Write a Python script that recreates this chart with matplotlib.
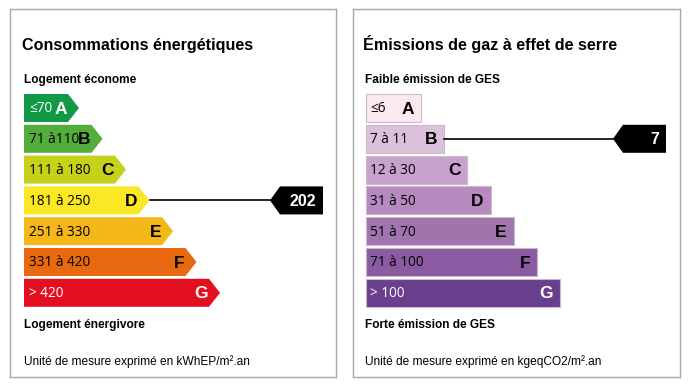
"""Energy performance diagnostic (DPE) labels: energy use and GHG emissions."""

import matplotlib.pyplot as plt
from matplotlib.patches import Polygon, Rectangle

# --- data -------------------------------------------------------------
classes = ["A", "B", "C", "D", "E", "F", "G"]

energy_ranges = ["≤70", "71 à110", "111 à 180", "181 à 250", "251 à 330", "331 à 420", "> 420"]
energy_colors = ["#109a48", "#52ad3a", "#c6d21a", "#fbe723", "#f4b719", "#e8690f", "#e30e1f"]
energy_text = ["white", "black", "black", "black", "black", "black", "white"]
energy_value = 202
energy_class = "D"

ges_ranges = ["≤6", "7 à 11", "12 à 30", "31 à 50", "51 à 70", "71 à 100", "> 100"]
ges_colors = ["#fbe9f2", "#dcc1dd", "#c7a2cc", "#b68abe", "#a174ae", "#8a5ba0", "#6a3f8e"]
ges_text = ["black", "black", "black", "black", "black", "black", "white"]
ges_value = 7
ges_class = "B"

# --- layout (pixels inside each panel) --------------------------------
BAR_TOP = 85.0
BAR_PITCH = 30.8
BAR_H = 28.0
BAR_X0 = 14.0
HEAD = 11.0

TITLE_FONT = ["Liberation Sans", "DejaVu Sans"]
RANGE_FONT = ["Open Sans", "DejaVu Sans"]


def make_panel(fig, left_px, width_px):
    ax = fig.add_axes([left_px / 689, 12 / 389, width_px / 689, 368 / 389])
    ax.set_xlim(0, width_px)
    ax.set_ylim(368, 0)
    ax.set_xticks([])
    ax.set_yticks([])
    for s in ax.spines.values():
        s.set_color("#a8a8a8")
        s.set_linewidth(1.0)
    return ax


def draw_pointer(ax, y_mid, line_x0, value):
    tip, box_l, box_r = 260, 270, 313
    top, bot = y_mid - BAR_H / 2, y_mid + BAR_H / 2
    ax.plot([line_x0, tip], [y_mid, y_mid], color="black", lw=1.2)
    ax.add_patch(Polygon([(tip, y_mid), (box_l, top), (box_r, top), (box_r, bot), (box_l, bot)],
                         closed=True, facecolor="black", edgecolor="none"))
    ax.text(box_r - 7, y_mid + 1, str(value), color="white", fontsize=11.5, fontweight="bold",
            family=TITLE_FONT, ha="right", va="center")


def header_footer(ax, x, title, top_label, bottom_label, unit):
    ax.text(x, 41, title, fontsize=11.6, fontweight="bold", family=TITLE_FONT, va="baseline")
    ax.text(x + 2, 74, top_label, fontsize=8.6, fontweight="bold", family=TITLE_FONT, va="baseline")
    ax.text(x + 2, 319, bottom_label, fontsize=8.6, fontweight="bold", family=TITLE_FONT, va="baseline")
    ax.text(x + 2, 356, unit, fontsize=8.6, family=TITLE_FONT, va="baseline")


fig = plt.figure(figsize=(6.89, 3.89), dpi=100)

# energy panel
ax1 = make_panel(fig, 10, 326)
header_footer(ax1, 12, "Consommations énergétiques", "Logement économe",
              "Logement énergivore", "Unité de mesure exprimé en kWhEP/m².an")
for i, (cls, rng, col, tc) in enumerate(zip(classes, energy_ranges, energy_colors, energy_text)):
    top = BAR_TOP + i * BAR_PITCH
    bot = top + BAR_H
    mid = top + BAR_H / 2
    tip = 69 + 23.5 * i
    ax1.add_patch(Polygon([(BAR_X0, top), (tip - HEAD, top), (tip, mid), (tip - HEAD, bot), (BAR_X0, bot)],
                          closed=True, facecolor=col, edgecolor="none"))
    ax1.text(BAR_X0 + 5, mid + 1, rng, color=tc, fontsize=9.8, family=RANGE_FONT, va="center")
    ax1.text(tip - 12, mid + 1, cls, color=tc, fontsize=12.5, fontweight="bold",
             family=TITLE_FONT, ha="right", va="center")
    if cls == energy_class:
        draw_pointer(ax1, mid, tip, energy_value)

# GHG panel
ax2 = make_panel(fig, 353, 327)
header_footer(ax2, 10, "Émissions de gaz à effet de serre", "Faible émission de GES",
              "Forte émission de GES", "Unité de mesure exprimé en kgeqCO2/m².an")
for i, (cls, rng, col, tc) in enumerate(zip(classes, ges_ranges, ges_colors, ges_text)):
    top = BAR_TOP + i * BAR_PITCH
    mid = top + BAR_H / 2
    end = 68 + 23.2 * i
    ax2.add_patch(Rectangle((13, top), end - 13, BAR_H, facecolor=col, edgecolor="#cbb9c9", lw=0.8))
    ax2.text(17, mid + 1, rng, color=tc, fontsize=9.8, family=RANGE_FONT, va="center")
    ax2.text(end - 7, mid + 1, cls, color=tc, fontsize=12.5, fontweight="bold",
             family=TITLE_FONT, ha="right", va="center")
    if cls == ges_class:
        draw_pointer(ax2, mid, end, ges_value)

fig.savefig("out.png", dpi=100)
